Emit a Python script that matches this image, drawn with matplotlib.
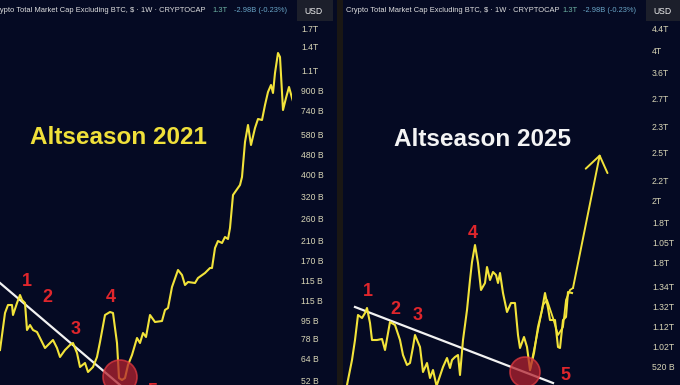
import matplotlib
matplotlib.use("Agg")
import matplotlib.pyplot as plt
from matplotlib.patches import Circle, Rectangle

# chart levels (0 = bottom of panel, 385 = top), x along each panel
left_x = [0, 5, 8, 12, 13, 17, 20, 22, 25, 27, 30, 33, 37, 42, 45, 50, 53, 57, 60, 65,
          70, 73, 77, 80, 85, 88, 93, 97, 100, 105, 110, 113, 117, 119, 122, 125, 128, 132,
          137, 140, 143, 146, 150, 155, 162, 165, 168, 172, 178, 182, 185, 188, 195, 198,
          205, 210, 212, 215, 218, 222, 225, 228, 230, 233, 240, 242, 245, 248, 251, 255,
          258, 262, 265, 268, 271, 273, 275, 278, 280, 283, 286, 289, 292, 295]
left_y = [35, 72, 80, 80, 70, 82, 90, 85, 82, 55, 60, 55, 53, 43, 37, 42, 45, 37, 28, 35,
          40, 42, 32, 18, 22, 13, 18, 28, 43, 70, 73, 72, 42, 7, 5, 7, 20, 30,
          47, 42, 52, 48, 70, 63, 64, 75, 77, 98, 115, 110, 100, 103, 102, 107,
          112, 117, 117, 137, 144, 142, 148, 146, 157, 190, 200, 208, 243, 260, 240, 257,
          266, 265, 280, 293, 300, 292, 312, 332, 328, 275, 287, 298, 287, 277]

right_x = [347, 352, 355, 358, 362, 365, 367, 370, 372, 377, 382, 385, 390, 395, 400, 403,
           407, 410, 413, 415, 420, 423, 427, 430, 433, 437, 440, 443, 447, 450, 452, 455,
           458, 460, 463, 467, 470, 472, 475, 478, 481, 485, 487, 490, 493, 496, 498, 500,
           503, 507, 511, 515, 518, 520, 524, 527, 530, 534, 538, 542, 545, 548, 550, 555,
           558, 560, 563, 566, 568, 572]
right_y = [0, 25, 45, 70, 67, 72, 77, 62, 45, 45, 46, 35, 63, 60, 45, 30,
           20, 22, 38, 50, 38, 13, 22, 7, 15, -3, -1, 18, 27, 17, 25, 28,
           30, 10, 45, 75, 105, 123, 140, 122, 95, 102, 118, 105, 113, 110, 102, 112,
           92, 73, 82, 82, 50, 37, 48, 38, 15, 32, 58, 75, 92, 77, 65, 65,
           38, 37, 65, 68, 93, 92]

proj_x = [530, 537, 543, 547, 553, 558, 563, 566, 570, 573]
proj_y = [15, 50, 80, 85, 67, 50, 58, 85, 95, 97]
proj_target = (600, 231)

left_trend = ([0, 120], [102, 0])
right_trend = ([355, 553], [78, 2])

left_ticks = [357, 339, 315, 294, 274, 251, 231, 211, 189, 167, 145, 125, 105, 84, 65, 47, 26, 4]
left_labels = ["1.7T", "1.4T", "1.1T", "900 B", "740 B", "580 B", "480 B", "400 B", "320 B",
               "260 B", "210 B", "170 B", "115 B", "115 B", "95 B", "78 B", "64 B", "52 B"]
right_ticks = [357, 334, 312, 287, 258, 233, 205, 185, 162, 143, 122, 98, 79, 58, 39, 18]
right_labels = ["4.4T", "4T", "3.6T", "2.7T", "2.3T", "2.5T", "2.2T", "2T", "1.8T", "1.05T",
                "1.8T", "1.34T", "1.32T", "1.12T", "1.02T", "520 B"]

left_waves = [("1", 27, 103), ("2", 47, 87), ("3", 76, 55), ("4", 111, 87), ("5", 152, -6)]
right_waves = [("1", 368, 93), ("2", 395, 75), ("3", 418, 69), ("4", 473, 152), ("5", 565, 9)]

bg = "#050a23"
yellow = "#f2e33a"
red = "#e0262c"
W, H = 680, 385

fig = plt.figure(figsize=(6.8, 3.85), dpi=100, facecolor=bg)


def panel(rect, xlim):
    ax = fig.add_axes(rect)
    ax.set_facecolor(bg)
    ax.set_xlim(*xlim)
    ax.set_ylim(0, 385)
    for s in ax.spines.values():
        s.set_visible(False)
    ax.set_xticks([])
    ax.yaxis.tick_right()
    ax.tick_params(axis="y", length=0, pad=6.5, labelsize=6.2, labelcolor="#d8d5b6")
    return ax


ax1 = panel([0, 0, 292 / W, 1], (0, 292))
ax2 = panel([343 / W, 0, 300 / W, 1], (343, 643))

ax1.set_yticks(left_ticks, left_labels, fontfamily="Liberation Sans")
ax2.set_yticks(right_ticks, right_labels, fontfamily="Liberation Sans")

# price lines
ax1.plot(left_x, left_y, color=yellow, lw=1.5, solid_joinstyle="round", zorder=3)
ax2.plot(right_x, right_y, color=yellow, lw=1.5, solid_joinstyle="round", zorder=3)
ax2.plot(proj_x, proj_y, color=yellow, lw=1.3, zorder=3)
ax2.annotate("", xy=proj_target, xytext=(proj_x[-1], proj_y[-1]),
             arrowprops=dict(arrowstyle="->,head_length=0.7,head_width=0.5",
                             color=yellow, lw=1.4, mutation_scale=16,
                             shrinkA=0, shrinkB=0), zorder=3)

# trend lines
ax1.plot(*left_trend, color="#f2f2f2", lw=1.6, zorder=2)
ax2.plot(*right_trend, color="#f2f2f2", lw=1.6, zorder=2)

# bottom circles
ax1.add_patch(Circle((120, 8), 17, facecolor="#b3222e", edgecolor="#e23a40",
                     lw=1.2, alpha=0.75, zorder=4))
ax2.add_patch(Circle((525, 13), 15, facecolor="#b3222e", edgecolor="#e23a40",
                     lw=1.2, alpha=0.75, zorder=4))

for ax, waves in ((ax1, left_waves), (ax2, right_waves)):
    for t, x, y in waves:
        ax.text(x, y, t, color=red, fontsize=13, fontweight="bold",
                family="Liberation Sans", ha="center", va="center", zorder=5)

ax1.text(118, 247, "Altseason 2021", color="#f0e03a", fontsize=17.5, fontweight="bold",
         family="Liberation Sans", ha="center", va="center")
ax2.text(483, 245, "Altseason 2025", color="#f4f4f4", fontsize=17.5, fontweight="bold",
         family="Liberation Sans", ha="center", va="center")

# divider between the two panels
fig.patches.append(Rectangle((337 / W, 0), 6 / W, 1, transform=fig.transFigure,
                             facecolor="#1a1714", edgecolor="none", zorder=1))

# header strips
hy = 1 - 11 / H
title = "Crypto Total Market Cap Excluding BTC, $ \u00b7 1W \u00b7 CRYPTOCAP"
for x0, xv, xc, xb in ((-8, 212, 234, 297), (346, 562, 583, 646)):
    fig.text(x0 / W, hy, title, color="#e0e0e0", fontsize=5.4,
             family="Liberation Sans", va="center")
    fig.text(xv / W, hy, "1.3T", color="#6fb5a5", fontsize=5.4,
             family="Liberation Sans", va="center")
    fig.text(xc / W, hy, "-2.98B (-0.23%)", color="#6aa6c8", fontsize=5.4,
             family="Liberation Sans", va="center")
    fig.patches.append(Rectangle((xb / W, 1 - 21 / H), 36 / W, 21 / H,
                                 transform=fig.transFigure, facecolor="#1c1f2b",
                                 edgecolor="none", zorder=1))
    fig.text((xb + 7) / W, hy, "USD", color="#f0f0f0", fontsize=6.2,
             family="Liberation Sans", va="center", zorder=2)

fig.savefig("out.png", dpi=100, facecolor=bg)
